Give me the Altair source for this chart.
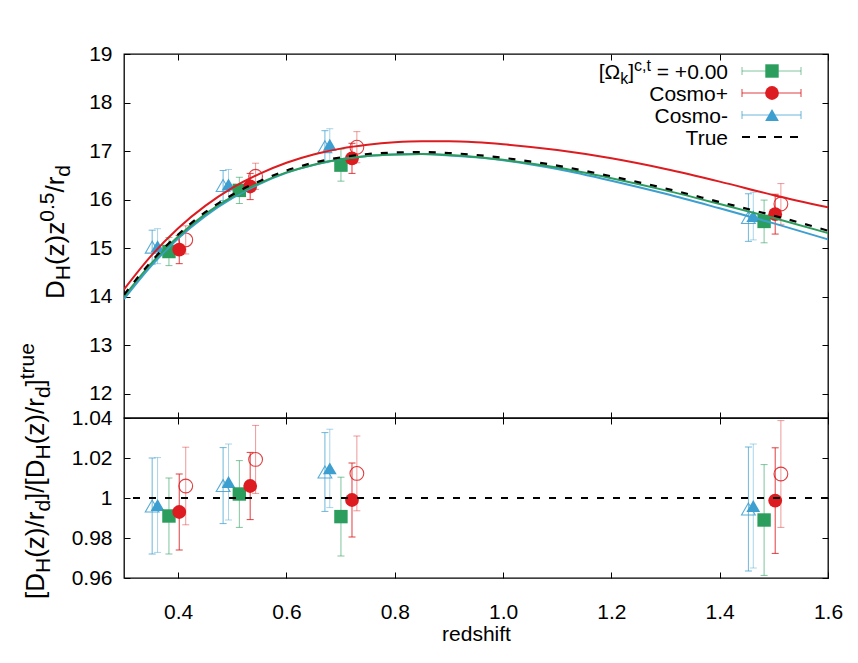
import altair as alt
import pandas as pd

# ---------------- data ----------------
z_curve = [0.30, 0.35, 0.40, 0.45, 0.50, 0.55, 0.60, 0.65, 0.70, 0.75, 0.80,
           0.85, 0.90, 0.95, 1.00, 1.10, 1.20, 1.30, 1.40, 1.50, 1.60]
true_curve = [14.04, 14.72, 15.28, 15.74, 16.10, 16.38, 16.60, 16.76, 16.87, 16.94, 16.97,
              16.98, 16.96, 16.92, 16.86, 16.70, 16.48, 16.23, 15.95, 15.67, 15.36]
omk_curve = [14.00, 14.68, 15.24, 15.70, 16.06, 16.34, 16.56, 16.72, 16.83, 16.90, 16.93,
             16.94, 16.92, 16.88, 16.82, 16.66, 16.44, 16.19, 15.91, 15.62, 15.31]
plus_curve = [14.15, 14.84, 15.41, 15.87, 16.24, 16.53, 16.76, 16.93, 17.05, 17.13, 17.18,
              17.20, 17.20, 17.18, 17.14, 17.02, 16.85, 16.63, 16.37, 16.09, 15.84]
minus_curve = [13.95, 14.63, 15.20, 15.66, 16.03, 16.32, 16.55, 16.71, 16.83, 16.90, 16.93,
               16.94, 16.91, 16.87, 16.81, 16.63, 16.39, 16.12, 15.82, 15.51, 15.18]

omk_z = [0.383, 0.513, 0.7006, 1.482]
omk_top = [14.93, 16.19, 16.71, 15.55]
omk_top_err = [0.29, 0.27, 0.33, 0.44]
omk_ratio = [0.991, 1.002, 0.9907, 0.989]
omk_ratio_err = [0.019, 0.0167, 0.0197, 0.0277]

plus_z = [0.402, 0.533, 0.721, 1.5025]
plus_top = [14.97, 16.27, 16.85, 15.70]
plus_top_err = [0.29, 0.27, 0.31, 0.41]
plus_ratio = [0.993, 1.006, 0.999, 0.9987]
plus_ratio_err = [0.019, 0.0168, 0.0185, 0.0264]

plus_open_z = [0.414, 0.543, 0.730, 1.513]
plus_open_top = [15.17, 16.48, 17.08, 15.91]
plus_open_top_err = [0.29, 0.27, 0.32, 0.42]
plus_open_ratio = [1.006, 1.0193, 1.0123, 1.012]
plus_open_ratio_err = [0.0194, 0.017, 0.0187, 0.0267]

minus_z = [0.362, 0.493, 0.680, 1.462]
minus_top = [15.04, 16.31, 17.13, 15.66]
minus_top_err = [0.36, 0.31, 0.33, 0.49]
minus_ratio = [0.9965, 1.008, 1.0148, 0.996]
minus_ratio_err = [0.0237, 0.019, 0.0196, 0.031]

minus_open_z = [0.352, 0.483, 0.671, 1.453]
minus_open_top = [15.02, 16.29, 17.09, 15.63]
minus_open_top_err = [0.35, 0.31, 0.33, 0.49]
minus_open_ratio = [0.996, 1.0062, 1.013, 0.9945]
minus_open_ratio_err = [0.024, 0.019, 0.0197, 0.031]

x_ticks = [0.4, 0.6, 0.8, 1.0, 1.2, 1.4, 1.6]
top_ticks = [12, 13, 14, 15, 16, 17, 18, 19]
bot_ticks = [0.96, 0.98, 1.0, 1.02, 1.04]
ref_ratio = [1.0]

legend_labels = ["Cosmo+", "Cosmo-", "True"]

# ---------------- style ----------------
GREEN = "#2b9e5e"
RED = "#dc1c20"
BLUE = "#3d9fcf"
FONT = "Liberation Sans"
W, H_TOP, H_BOT = 704, 364, 160
TICK = 6
FS = 21

xscale = alt.Scale(domain=[0.3, 1.6], nice=False, zero=False)
ytop_scale = alt.Scale(domain=[11.5, 19], nice=False, zero=False)
ybot_scale = alt.Scale(domain=[0.96, 1.04], nice=False, zero=False)

CW = {'D': .722, 'H': .722, '(': .333, ')': .333, 'z': .5, '0': .556, '.': .278,
      '5': .556, '/': .278, 'r': .333, 'd': .556, '[': .278, ']': .278, 't': .278,
      'u': .556, 'e': .556, 'Ω': .768, 'k': .5, 'c': .5, ',': .278, ' ': .278,
      '=': .584, '+': .584}


def tw(s, size):
    return sum(CW.get(ch, .556) for ch in s) * size


def one():
    return alt.Data(values=[{"a": 1}])


def axis(orient, values, labels, fmt=None, title=None, pad=12):
    kw = dict(orient=orient, values=values, labels=labels, domain=False, grid=False,
              ticks=True, tickSize=TICK, offset=-TICK, tickColor="black", tickWidth=1,
              labelFont=FONT, labelFontSize=FS, labelColor="black", labelPadding=pad,
              labelFlush=False, labelOverlap=False)
    if fmt:
        kw["format"] = fmt
    if title:
        kw.update(title=title, titleFont=FONT, titleFontSize=FS, titleFontWeight="normal",
                  titleColor="black", titlePadding=1)
    else:
        kw["title"] = None
    return alt.Axis(**kw)


def rot_title(pieces, base_x, center_y, F):
    small = round(F * 0.8)
    sizes = [F if k == "n" else small for _, k in pieces]
    L = sum(tw(t, s) for (t, _), s in zip(pieces, sizes))
    y = center_y + L / 2
    out = []
    for (t, k), s in zip(pieces, sizes):
        shift = 0 if k == "n" else (0.22 * F if k == "sub" else -0.40 * F)
        out.append(alt.Chart(one()).mark_text(
            text=t, angle=270, align="left", baseline="alphabetic",
            font=FONT, fontSize=s, color="black").encode(
            x=alt.value(base_x + shift), y=alt.value(y)))
        y -= tw(t, s)
    return out


def curve(vals, color, yscale, ax_x=None, ax_y=None, dash=None, width=2):
    df = pd.DataFrame({"z": z_curve, "v": vals})
    mk = dict(color=color, strokeWidth=width, interpolate="monotone", clip=True)
    if dash:
        mk["strokeDash"] = dash
    return alt.Chart(df).mark_line(**mk).encode(
        x=alt.X("z:Q", scale=xscale, axis=ax_x if ax_x else None),
        y=alt.Y("v:Q", scale=yscale, axis=ax_y if ax_y else None))


def series(zs, vals, errs, yscale, color, shape, filled, bar_op, size):
    df = pd.DataFrame({"z": zs, "v": vals,
                       "lo": [v - e for v, e in zip(vals, errs)],
                       "hi": [v + e for v, e in zip(vals, errs)]})
    X = alt.X("z:Q", scale=xscale, axis=None)
    base = alt.Chart(df)
    bar = base.mark_rule(color=color, opacity=bar_op, strokeWidth=1).encode(
        x=X, y=alt.Y("lo:Q", scale=yscale, axis=None), y2="hi:Q")
    cap_lo = base.mark_tick(color=color, opacity=bar_op, orient="horizontal",
                            size=7, thickness=1).encode(
        x=X, y=alt.Y("lo:Q", scale=yscale, axis=None))
    cap_hi = base.mark_tick(color=color, opacity=bar_op, orient="horizontal",
                            size=7, thickness=1).encode(
        x=X, y=alt.Y("hi:Q", scale=yscale, axis=None))
    if filled:
        pm = base.mark_point(shape=shape, filled=True, fill=color, color=color,
                             opacity=1, size=size, strokeWidth=0)
    else:
        pm = base.mark_point(shape=shape, filled=False, color=color, opacity=0.85,
                             size=size, strokeWidth=1.1)
    pts = pm.encode(x=X, y=alt.Y("v:Q", scale=yscale, axis=None))
    return [bar, cap_lo, cap_hi, pts]


def all_series(which, yscale):
    out = []
    if which == "top":
        out += series(minus_open_z, minus_open_top, minus_open_top_err, yscale, BLUE, "triangle-up", False, 0.75, 190)
        out += series(minus_z, minus_top, minus_top_err, yscale, BLUE, "triangle-up", True, 0.45, 190)
        out += series(omk_z, omk_top, omk_top_err, yscale, GREEN, "square", True, 0.6, 180)
        out += series(plus_z, plus_top, plus_top_err, yscale, RED, "circle", True, 0.85, 190)
        out += series(plus_open_z, plus_open_top, plus_open_top_err, yscale, RED, "circle", False, 0.45, 190)
    else:
        out += series(minus_open_z, minus_open_ratio, minus_open_ratio_err, yscale, BLUE, "triangle-up", False, 0.75, 190)
        out += series(minus_z, minus_ratio, minus_ratio_err, yscale, BLUE, "triangle-up", True, 0.45, 190)
        out += series(omk_z, omk_ratio, omk_ratio_err, yscale, GREEN, "square", True, 0.6, 180)
        out += series(plus_z, plus_ratio, plus_ratio_err, yscale, RED, "circle", True, 0.85, 190)
        out += series(plus_open_z, plus_open_ratio, plus_open_ratio_err, yscale, RED, "circle", False, 0.45, 190)
    return out


# ---------------- legend (inside top panel, top right) ----------------
def legend_layers():
    out = []
    LF = 21
    xr = 604          # right edge of label text
    lx1, lx2, lm = 618, 677, 648
    rows = [17, 39, 61, 83]
    small = 16
    pieces = [(" = +0.00", "n"), ("c,t", "sup"), ("]", "n"), ("k", "sub"), ("[Ω", "n")]
    x = xr
    for t, k in pieces:
        s = LF if k == "n" else small
        dy = 0 if k == "n" else (5 if k == "sub" else -8)
        out.append(alt.Chart(one()).mark_text(text=t, align="right", baseline="alphabetic",
                                               font=FONT, fontSize=s, color="black").encode(
            x=alt.value(x), y=alt.value(rows[0] + 7.5 + dy)))
        x -= tw(t, s)
    for lab, r in zip(legend_labels, rows[1:]):
        out.append(alt.Chart(one()).mark_text(text=lab, align="right", baseline="alphabetic",
                                               font=FONT, fontSize=LF, color="black").encode(
            x=alt.value(xr), y=alt.value(r + 7.5)))
    specs = [(GREEN, "square", 180, 0.6), (RED, "circle", 190, 0.85), (BLUE, "triangle-up", 190, 0.75)]
    for (col, shp, sz, op), r in zip(specs, rows[:3]):
        out.append(alt.Chart(one()).mark_rule(color=col, opacity=op, strokeWidth=1).encode(
            x=alt.value(lx1), x2=alt.value(lx2), y=alt.value(r)))
        for xx in (lx1, lx2):
            out.append(alt.Chart(one()).mark_rule(color=col, opacity=op, strokeWidth=1).encode(
                x=alt.value(xx), y=alt.value(r - 4), y2=alt.value(r + 4)))
        out.append(alt.Chart(one()).mark_point(shape=shp, filled=True, fill=col, size=sz,
                                                strokeWidth=0, opacity=1).encode(
            x=alt.value(lm), y=alt.value(r)))
    out.append(alt.Chart(one()).mark_rule(color="black", strokeWidth=2, strokeDash=[8, 8]).encode(
        x=alt.value(lx1), x2=alt.value(lx2), y=alt.value(rows[3])))
    return out


# ---------------- top panel ----------------
top_layers = []
top_layers += all_series("top", ytop_scale)
top_layers.append(curve(plus_curve, RED, ytop_scale))
top_layers.append(curve(minus_curve, BLUE, ytop_scale))
top_layers.append(curve(omk_curve, GREEN, ytop_scale,
                        ax_x=axis("top", x_ticks, False), ax_y=axis("right", top_ticks, False)))
top_layers.append(curve(true_curve, "black", ytop_scale, dash=[7, 9], width=2.2,
                        ax_x=axis("bottom", x_ticks, False),
                        ax_y=axis("left", top_ticks, True, fmt="d")))
top_layers += legend_layers()
top_layers += rot_title([("D", "n"), ("H", "sub"), ("(z)z", "n"), ("0.5", "sup"),
                         ("/r", "n"), ("d", "sub")], -60, 178, 26)
top = alt.layer(*top_layers).resolve_axis(x="independent", y="independent").properties(
    width=W, height=H_TOP)

# ---------------- bottom panel ----------------
ref_df = pd.DataFrame({"r": ref_ratio})
bot_layers = []
bot_layers += all_series("bot", ybot_scale)
bot_layers.append(alt.Chart(ref_df).mark_rule(color="black", strokeWidth=2, strokeDash=[7, 9]).encode(
    y=alt.Y("r:Q", scale=ybot_scale, axis=axis("right", bot_ticks, False))))
bot_layers.append(alt.Chart(ref_df).mark_rule(opacity=0).encode(
    x=alt.X("r:Q", scale=xscale, axis=axis("top", x_ticks, False))))
axis_df = pd.DataFrame({"z": x_ticks, "v": [1.0] * len(x_ticks)})
bot_layers.append(alt.Chart(axis_df).mark_point(opacity=0).encode(
    x=alt.X("z:Q", scale=xscale, axis=axis("bottom", x_ticks, True, fmt=".1f",
                                            title="redshift", pad=23)),
    y=alt.Y("v:Q", scale=ybot_scale, axis=axis("left", bot_ticks, True, fmt="~g"))))
bot_layers += rot_title([("[D", "n"), ("H", "sub"), ("(z)/r", "n"), ("d", "sub"),
                         ("]/[D", "n"), ("H", "sub"), ("(z)/r", "n"), ("d", "sub"),
                         ("]", "n"), ("true", "sup")], -80, 53, 26)
bot = alt.layer(*bot_layers).resolve_axis(x="independent", y="independent").properties(
    width=W, height=H_BOT)

chart = alt.vconcat(top, bot, spacing=0, bounds="flush").properties(
    padding={"left": 7, "top": 34, "right": 5, "bottom": 5},
    background="white",
).configure_view(stroke="black", strokeWidth=1.3)

chart.save("out.html", embed_options={"renderer": "svg", "actions": False})
